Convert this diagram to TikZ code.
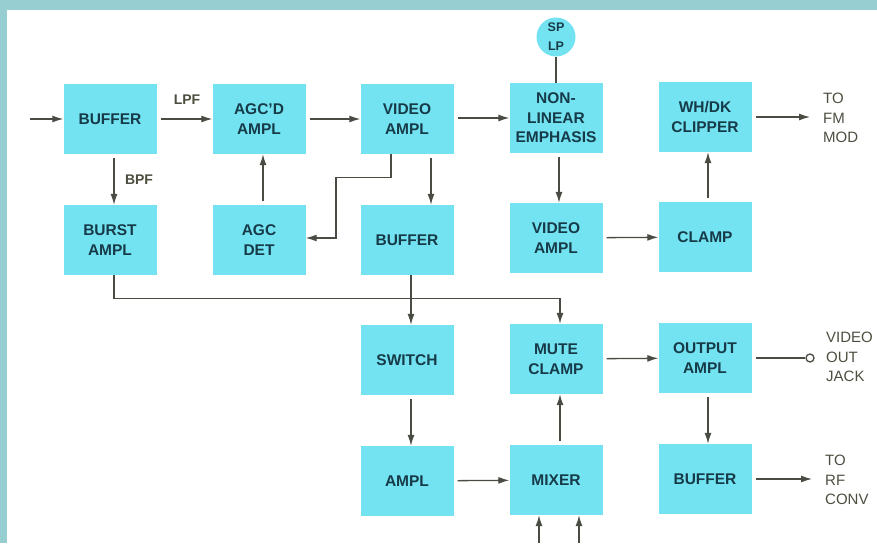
\documentclass[tikz,border=0pt]{standalone}
\usepackage{fontspec}
\setmainfont{Liberation Sans}
\usetikzlibrary{positioning,arrows.meta}
\definecolor{blkfill}{RGB}{115,227,241}
\definecolor{blktext}{RGB}{22,58,72}
\definecolor{wirecol}{RGB}{72,76,66}
\definecolor{framecol}{RGB}{150,206,210}
\definecolor{lbltext}{RGB}{78,78,64}

\begin{document}
\begin{tikzpicture}[x=1pt,y=-1pt,>={Latex[length=11pt,width=7pt]},
   blk/.style={fill=blkfill,minimum width=93pt,minimum height=70pt,inner sep=0pt,align=center,
     text=blktext,font=\fontsize{15.5}{19.5}\selectfont\bfseries},
   lbl/.style={text=lbltext,align=left,inner sep=0pt,font=\fontsize{15}{19.5}\selectfont},
   wire/.style={draw=wirecol,line width=1.3pt,shorten <=4pt}]
% Rahmen
\fill[framecol] (0,0) rectangle (877,543);
\fill[white] (7,10) rectangle (877,543);
\useasboundingbox (0,0) rectangle (877,543);
% Zeile 1
\node[blk] (buf1) at (110,119) {BUFFER};
\node[blk] (agca) at (259,119) {AGC'D\\AMPL};
\node[blk] (vid1) at (407,119) {VIDEO\\AMPL};
\node[blk] (nle) at (556,118) {NON-\\LINEAR\\EMPHASIS};
\node[blk] (clip) at (705,117) {WH/DK\\CLIPPER};
\node[circle,fill=blkfill,minimum size=39pt,inner sep=0pt,align=center,text=blktext,
   font=\fontsize{12.5}{19}\selectfont\bfseries] (splp) at (556,37) {SP\\LP};
% Zeile 2
\node[blk] (burst) at (110,240) {BURST\\AMPL};
\node[blk] (agcd) at (259,240) {AGC\\DET};
\node[blk] (buf2) at (407,240) {BUFFER};
\node[blk] (vid2) at (556,238) {VIDEO\\AMPL};
\node[blk] (clamp) at (705,237) {CLAMP};
% Zeile 3
\node[blk] (sw) at (407,360) {SWITCH};
\node[blk] (mute) at (556,359) {MUTE\\CLAMP};
\node[blk] (oamp) at (705,358) {OUTPUT\\AMPL};
% Zeile 4
\node[blk] (ampl) at (407,481) {AMPL};
\node[blk] (mix) at (556,480) {MIXER};
\node[blk] (buf3) at (705,479) {BUFFER};
% Ein- und Ausgaenge
\coordinate (in) at (30,119);
\coordinate (fm) at (810,117);
\coordinate (rf) at (812,479);
\coordinate (m1) at (539,543);
\coordinate (m2) at (579,543);
\coordinate (kn) at (336,238);
\node[circle,draw=wirecol,line width=1.3pt,fill=white,minimum size=8pt,inner sep=0pt] (jack) at (810,358) {};
\node[lbl,anchor=west] (fmtxt) at (823,118) {TO\\FM\\MOD};
\node[lbl,anchor=west] (jacktxt) at (826,357) {VIDEO\\OUT\\JACK};
\node[lbl,anchor=west] (rftxt) at (825,480) {TO\\RF\\CONV};
\node[text=lbltext,font=\fontsize{14}{16}\selectfont\bfseries] (lpf) at (187,100) {LPF};
\node[text=lbltext,font=\fontsize{14}{16}\selectfont\bfseries] (bpf) at (139,180) {BPF};
% Verbindungen
\path[->] (in) edge[wire,shorten <=0pt] (buf1)
      (buf1) edge[wire] (agca)
      (agca) edge[wire] (vid1)
      (vid1.east |- nle) edge[wire] (nle)
      (clip) edge[wire] (fm)
      ([xshift=3pt]nle.south) edge[wire] ([xshift=3pt]vid2.north)
      (vid2) edge[wire] (clamp)
      ([xshift=3pt]clamp.north) edge[wire] ([xshift=3pt]clip.south)
      ([xshift=4pt]buf1.south) edge[wire] ([xshift=4pt]burst.north)
      ([xshift=4pt]agcd.north) edge[wire] ([xshift=4pt]agca.south)
      ([xshift=24pt]vid1.south) edge[wire] ([xshift=24pt]buf2.north)
      ([xshift=4pt]buf2.south) edge[wire,shorten <=0pt] ([xshift=4pt]sw.north)
      ([xshift=4pt]sw.south) edge[wire] ([xshift=4pt]ampl.north)
      (ampl) edge[wire] (mix)
      ([xshift=4pt]mix.north) edge[wire] ([xshift=4pt]mute.south)
      (mute) edge[wire] (oamp)
      ([xshift=3pt]oamp.south) edge[wire] ([xshift=3pt]buf3.north)
      (buf3) edge[wire] (rf)
      (m1) edge[wire,shorten <=0pt] (m1 |- mix.south)
      (m2) edge[wire,shorten <=0pt] (m2 |- mix.south);
\draw[wire,shorten <=0pt] (splp) -- (nle);
\draw[wire] (oamp) -- (jack);
\draw[wire,->,shorten <=0pt] ([xshift=-16pt]vid1.south) -- ++(0,23) -| (kn) -- (agcd.east |- kn);
\draw[wire,->,shorten <=0pt] ([xshift=4pt]burst.south) -- ++(0,23) -| ([xshift=4pt]mute.north);
\end{tikzpicture}
\end{document}
